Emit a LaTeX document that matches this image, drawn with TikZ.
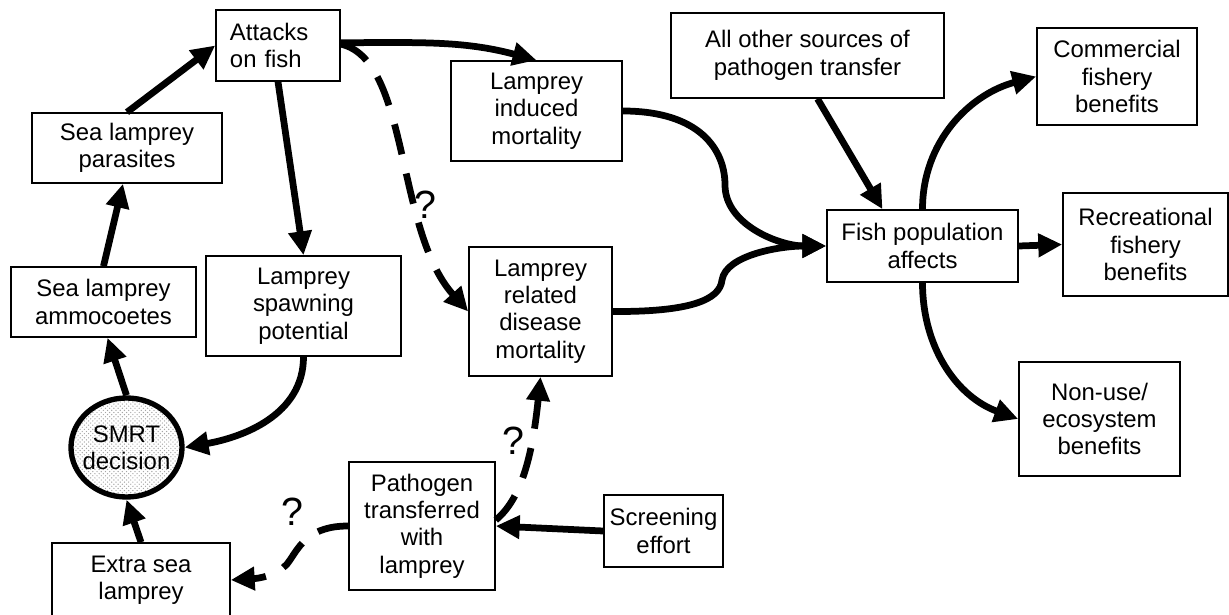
\documentclass[tikz,border=0pt]{standalone}
\usepackage{fontspec}
\setmainfont{Liberation Sans}
\usepackage{tikz}
\usetikzlibrary{arrows.meta,shapes.geometric,patterns}

\begin{document}
\begin{tikzpicture}[x=0.025cm, y=-0.025cm,
  box/.style={draw, line width=1.1pt, align=center, inner sep=2pt, font=\fontsize{17}{19.5}\selectfont},
  smrt/.style={draw, shape=ellipse, line width=3.8pt, pattern=crosshatch dots, pattern color=gray!70, align=center, inner xsep=-6pt, inner ysep=0pt, font=\fontsize{17}{19.5}\selectfont},
  arr/.style={line width=4.8pt, -{Triangle[length=17pt,width=16pt]}},
  dasharr/.style={arr, dash pattern=on 22pt off 14pt},
  qmark/.style={font=\fontsize{28}{28}\selectfont}]

\useasboundingbox (0,0) rectangle (1229,615);

\node[box, minimum width=3.1cm, minimum height=1.775cm, text width=2.4cm, align=left] (attacks) at (278,45.5) {Attacks\\on fish};
\node[box, minimum width=4.75cm, minimum height=1.75cm] (parasites) at (127,148) {Sea lamprey\\parasites};
\node[box, minimum width=4.625cm, minimum height=1.75cm] (ammo) at (103.5,302) {Sea lamprey\\ammocoetes};
\node[smrt, minimum width=2.775cm, minimum height=2.475cm] (smrt) at (126.5,447.5) {SMRT\\decision};
\node[box, minimum width=4.45cm, minimum height=1.85cm] (extra) at (141,580) {Extra sea\\lamprey};

\node[box, minimum width=4.875cm, minimum height=2.5cm] (spawning) at (303.5,306) {Lamprey\\spawning\\potential};
\node[box, minimum width=4.275cm, minimum height=2.5cm] (induced) at (536.5,111) {Lamprey\\induced\\mortality};
\node[box, minimum width=3.575cm, minimum height=3.225cm] (related) at (540.5,311.5) {Lamprey\\related\\disease\\mortality};
\node[box, minimum width=3.65cm, minimum height=3.2cm] (pathogen) at (422,526) {Pathogen\\transferred\\with\\lamprey};
\node[box, minimum width=2.975cm, minimum height=1.8cm] (screening) at (663.5,531) {Screening\\effort};

\node[box, minimum width=6.825cm, minimum height=2.125cm] (allother) at (807.5,55.5) {All other sources of\\pathogen transfer};
\node[box, minimum width=4.775cm, minimum height=1.8cm] (fish) at (922.5,246) {Fish population\\affects};
\node[box, minimum width=4cm, minimum height=2.425cm] (commercial) at (1117,76.5) {Commercial\\fishery\\benefits};
\node[box, minimum width=4.125cm, minimum height=2.575cm] (recreational) at (1145.5,244.5) {Recreational\\fishery\\benefits};
\node[box, minimum width=4.025cm, minimum height=2.85cm] (nonuse) at (1099.5,419) {Non-use/\\ecosystem\\benefits};

\node[qmark] (q1) at (425,205) {?};
\node[qmark] (q2) at (513,441) {?};
\node[qmark] (q3) at (292,512) {?};

% life cycle
\draw[arr] (parasites.north) to (attacks.west);
\draw[arr] (ammo.north) to ([xshift=-0.1cm]parasites.south);
\draw[arr] (smrt.north) to ([xshift=0.1cm]ammo.south);
\draw[arr] (extra.north) to (smrt.south);
\draw[arr] (attacks.south) to (spawning.north);
\draw[arr] (spawning.south) to[out=-90,in=10] (smrt.east);

% mortality
\draw[arr] ([yshift=2pt]attacks.east) to[out=0,in=165] (induced.north);
\draw[dasharr] ([yshift=1pt]attacks.east) .. controls (410,60) and (395,230) .. (related.west);
\draw[arr] (induced.east) .. controls (700,111) and (725,150) .. (725,185) .. controls (725,225) and (780,246) .. (fish.west);
\draw[arr] (related.east) .. controls (690,312) and (720,300) .. (722,280) .. controls (726,255) and (780,246) .. (fish.west);

% benefits
\draw[arr] ([xshift=0.25cm]allother.south) to ([xshift=-1cm]fish.north);
\draw[arr] (fish.north) to[out=90,in=195] (commercial.west);
\draw[arr] (fish.east) to (recreational.west);
\draw[arr] (fish.south) to[out=-90,in=160] (nonuse.west);

% pathogen
\draw[arr] (screening.west) to (pathogen.east);
\draw[dasharr] ([yshift=0.15cm]pathogen.east) .. controls (520,500) and (532,460) .. (related.south);
\draw[dasharr] (pathogen.west) .. controls (310,526) and (300,545) .. (290,560) .. controls (283,572) and (265,578) .. (extra.east);

\end{tikzpicture}
\end{document}
